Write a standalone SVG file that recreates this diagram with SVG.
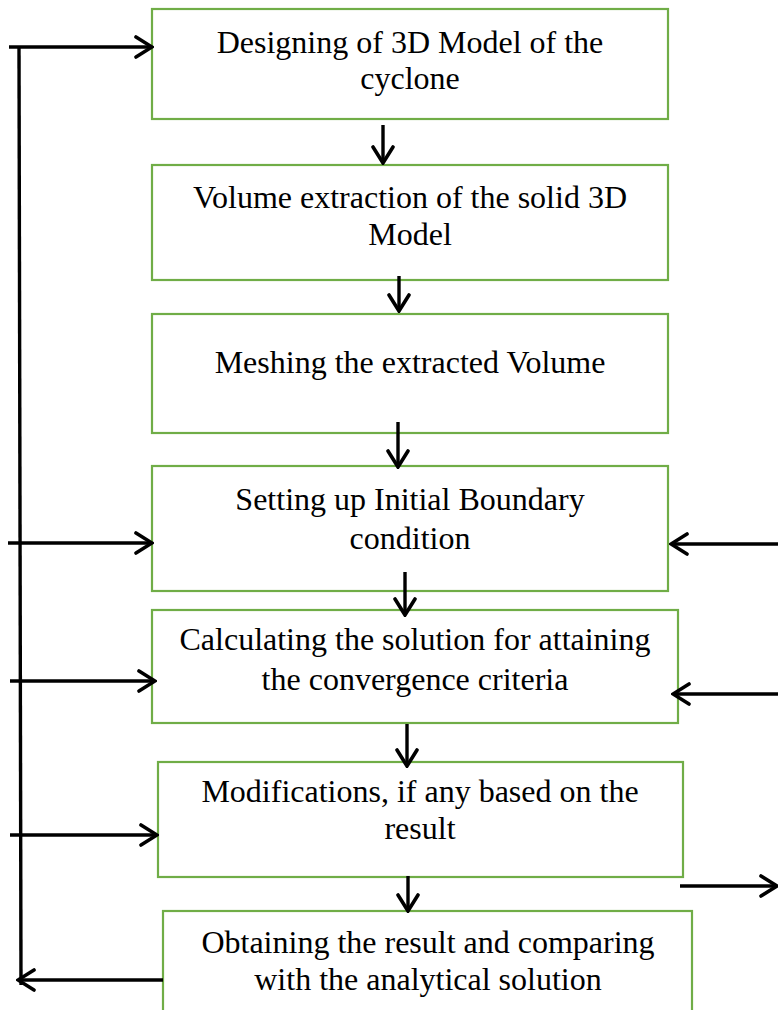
<svg xmlns="http://www.w3.org/2000/svg" width="778" height="1010" viewBox="0 0 778 1010">
<defs>
<style>
.box{fill:#fff;stroke:#70ad47;stroke-width:2.2}
.t{font-family:"Liberation Serif","Times New Roman",serif;font-size:32px;fill:#000;text-anchor:middle}
.c{stroke:#000;stroke-width:3.4;fill:none;marker-end:url(#ah)}
.l{stroke:#000;stroke-width:3.4;fill:none}
</style>
<marker id="ah" viewBox="0 0 20 24" refX="18" refY="12" markerWidth="20" markerHeight="24" markerUnits="userSpaceOnUse" orient="auto">
<path d="M2,2 L18,12 L2,22" fill="none" stroke="#000" stroke-width="3.6" stroke-linecap="round" stroke-linejoin="miter"/>
</marker>
</defs>
<rect width="778" height="1010" fill="#fff"/>
<g id="n1"><rect class="box" x="152" y="9" width="516" height="110"/><text class="t" x="410" y="53">Designing of 3D Model of the</text><text class="t" x="410" y="89">cyclone</text></g>
<g id="n2"><rect class="box" x="152" y="165" width="516" height="115"/><text class="t" x="410" y="208">Volume extraction of the solid 3D</text><text class="t" x="410" y="245">Model</text></g>
<g id="n3"><rect class="box" x="152" y="314" width="516" height="119"/><text class="t" x="410" y="373">Meshing the extracted Volume</text></g>
<g id="n4"><rect class="box" x="152" y="466" width="516" height="125"/><text class="t" x="410" y="510">Setting up Initial Boundary</text><text class="t" x="410" y="549">condition</text></g>
<g id="n5"><rect class="box" x="152" y="610" width="526" height="113"/><text class="t" x="415" y="650">Calculating the solution for attaining</text><text class="t" x="415" y="690">the convergence criteria</text></g>
<g id="n6"><rect class="box" x="158" y="762" width="525" height="115"/><text class="t" x="420" y="802">Modifications, if any based on the</text><text class="t" x="420" y="839">result</text></g>
<g id="n7"><rect class="box" x="163" y="911" width="529" height="110"/><text class="t" x="428" y="953">Obtaining the result and comparing</text><text class="t" x="428" y="990">with the analytical solution</text></g>
<g id="connectors">
<line class="l" x1="19" y1="46" x2="21" y2="985"/>
<line class="c" x1="9" y1="47" x2="152" y2="47"/>
<line class="c" x1="8" y1="543" x2="152" y2="543"/>
<line class="c" x1="10" y1="681" x2="155" y2="681"/>
<line class="c" x1="10" y1="835" x2="157" y2="835"/>
<line class="c" x1="163" y1="980" x2="18" y2="980"/>
<line class="c" x1="778" y1="544" x2="671" y2="544"/>
<line class="c" x1="778" y1="694" x2="673" y2="694"/>
<line class="c" x1="680" y1="886" x2="777" y2="886"/>
<line class="c" x1="383" y1="125" x2="383" y2="163"/>
<line class="c" x1="399" y1="276" x2="399" y2="311"/>
<line class="c" x1="398" y1="422" x2="398" y2="467"/>
<line class="c" x1="405" y1="572" x2="405" y2="615"/>
<line class="c" x1="407" y1="724" x2="407" y2="766"/>
<line class="c" x1="408" y1="876" x2="408" y2="911"/>
</g>
</svg>
